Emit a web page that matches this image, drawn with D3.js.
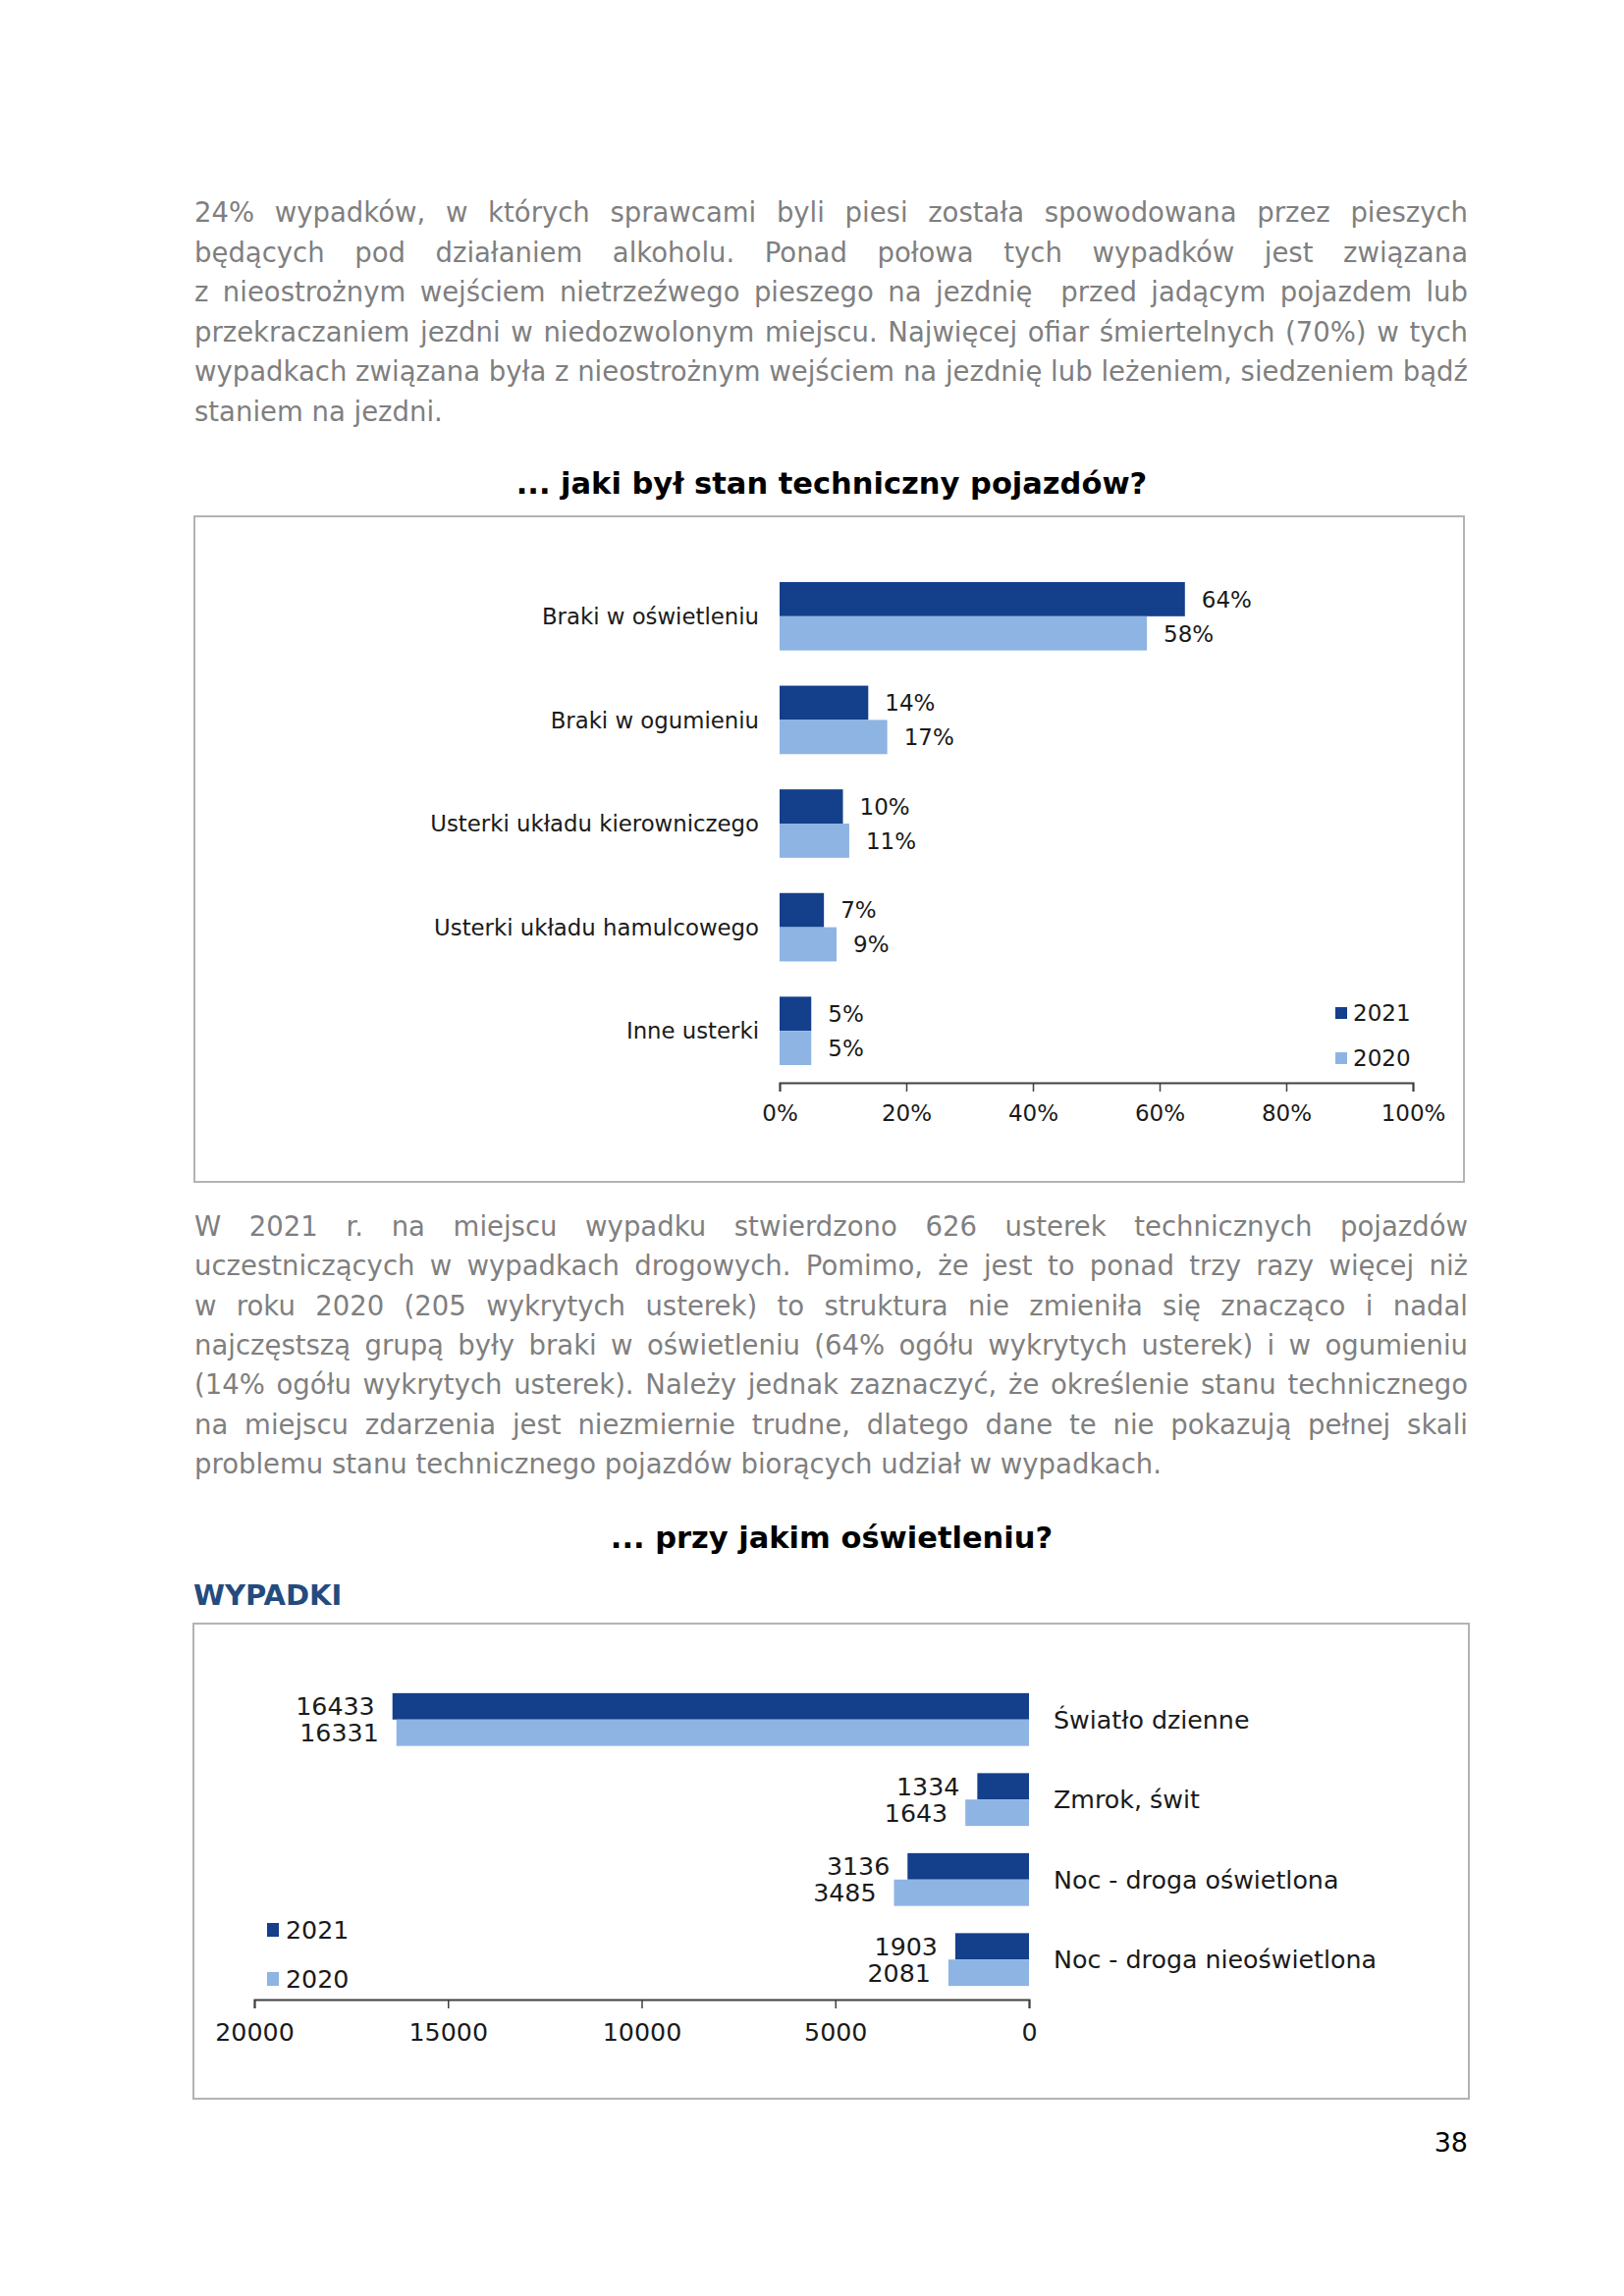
<!DOCTYPE html>
<html lang="pl">
<head>
  <meta charset="UTF-8">
  <title>Stan techniczny pojazdów, oświetlenie</title>
  <script src="https://cdn.jsdelivr.net/npm/d3@7"></script>
  <style>
    html, body { margin: 0; padding: 0; background: #fff; }
    svg { display: block; font-family: "DejaVu Sans", Verdana, sans-serif; }
  </style>
</head>
<body>
<svg id="page"></svg>
<script>
  // --- text of the page ---
  const para1 = [
    "24% wypadków, w których sprawcami byli piesi została spowodowana przez pieszych",
    "będących pod działaniem alkoholu. Ponad połowa tych wypadków jest związana",
    "z nieostrożnym wejściem nietrzeźwego pieszego na jezdnię  przed jadącym pojazdem lub",
    "przekraczaniem jezdni w niedozwolonym miejscu. Najwięcej ofiar śmiertelnych (70%) w tych",
    "wypadkach związana była z nieostrożnym wejściem na jezdnię lub leżeniem, siedzeniem bądź",
    "staniem na jezdni."
  ]
  const para2 = [
    "W 2021 r. na miejscu wypadku stwierdzono 626 usterek technicznych pojazdów",
    "uczestniczących w wypadkach drogowych. Pomimo, że jest to ponad trzy razy więcej niż",
    "w roku 2020 (205 wykrytych usterek) to struktura nie zmieniła się znacząco i nadal",
    "najczęstszą grupą były braki w oświetleniu (64% ogółu wykrytych usterek) i w ogumieniu",
    "(14% ogółu wykrytych usterek). Należy jednak zaznaczyć, że określenie stanu technicznego",
    "na miejscu zdarzenia jest niezmiernie trudne, dlatego dane te nie pokazują pełnej skali",
    "problemu stanu technicznego pojazdów biorących udział w wypadkach."
  ]

  // --- chart 1: stan techniczny pojazdów (%) ---
  const defects = ["Braki w oświetleniu", "Braki w ogumieniu", "Usterki układu kierowniczego",
                   "Usterki układu hamulcowego", "Inne usterki"]
  const defects2021 = [64, 14, 10, 7, 5]
  const defects2020 = [58, 17, 11, 9, 5]
  const pctTicks = [0, 20, 40, 60, 80, 100]

  // --- chart 2: wypadki wg oświetlenia ---
  const lighting = ["Światło dzienne", "Zmrok, świt", "Noc - droga oświetlona", "Noc - droga nieoświetlona"]
  const light2021 = [16433, 1334, 3136, 1903]
  const light2020 = [16331, 1643, 3485, 2081]
  const countTicks = [0, 5000, 10000, 15000, 20000]

  const years = ["2021", "2020"]
  const dark = "#133f8b", pale = "#8eb4e3"
  const textGrey = "#7f7f7f"
  const ink = "#1a1a1a"

  const W = 1654, H = 2339
  const svg = d3.select("#page").attr("width", W).attr("height", H)
  svg.append("rect").attr("width", W).attr("height", H).attr("fill", "#fff")

  // justified paragraph: every line but the last is stretched to the full width
  function paragraph(lines, x0, x1, y0, lh) {
    const g = svg.append("g").attr("font-size", 27.5).attr("fill", textGrey)
    lines.forEach((line, i) => {
      const y = y0 + i * lh
      const words = line.split(" ")
      const t = g.append("text").attr("y", y)
      if (i === lines.length - 1) {
        t.attr("x", x0).text(line)
        return
      }
      const spans = words.map(w => t.append("tspan").text(w))
      const widths = spans.map(s => s.node().getComputedTextLength())
      const gap = (x1 - x0 - d3.sum(widths)) / (words.length - 1)
      let x = x0
      spans.forEach((s, j) => { s.attr("x", x); x += widths[j] + gap })
    })
  }

  paragraph(para1, 198, 1495, 226, 40.5)
  paragraph(para2, 198, 1495, 1259, 40.3)

  // titles
  svg.append("text").attr("x", 847).attr("y", 503).attr("text-anchor", "middle")
    .attr("font-size", 30.5).attr("font-weight", "bold").attr("fill", "#000")
    .text("... jaki był stan techniczny pojazdów?")
  svg.append("text").attr("x", 847).attr("y", 1577).attr("text-anchor", "middle")
    .attr("font-size", 30.5).attr("font-weight", "bold").attr("fill", "#000")
    .text("... przy jakim oświetleniu?")
  svg.append("text").attr("x", 197).attr("y", 1635)
    .attr("font-size", 29).attr("font-weight", "bold").attr("fill", "#244b7e")
    .text("WYPADKI")

  // chart frames
  svg.append("rect").attr("x", 198).attr("y", 526).attr("width", 1293).attr("height", 678)
    .attr("fill", "none").attr("stroke", "#b3b3b3").attr("stroke-width", 2)
  svg.append("rect").attr("x", 197).attr("y", 1654).attr("width", 1299).attr("height", 484)
    .attr("fill", "none").attr("stroke", "#b3b3b3").attr("stroke-width", 2)

  // ---------- chart 1 ----------
  const c1 = svg.append("g")
  const x1 = d3.scaleLinear().domain([0, 100]).range([794, 1439])
  const y1 = d3.scaleBand().domain(defects).range([575, 1103]).paddingInner(0.34).paddingOuter(0.17)
  const half1 = y1.bandwidth() / 2

  const rows1 = defects.map((d, i) => ({ cat: d, v21: defects2021[i], v20: defects2020[i] }))
  const grp1 = c1.selectAll("g.row").data(rows1).join("g").attr("class", "row")

  grp1.append("rect").attr("x", x1(0)).attr("y", d => y1(d.cat))
    .attr("width", d => x1(d.v21) - x1(0)).attr("height", half1).attr("fill", dark)
  grp1.append("rect").attr("x", x1(0)).attr("y", d => y1(d.cat) + half1)
    .attr("width", d => x1(d.v20) - x1(0)).attr("height", half1).attr("fill", pale)

  grp1.append("text").attr("x", d => x1(d.v21) + 17).attr("y", d => y1(d.cat) + half1 / 2)
    .attr("dy", "0.36em").attr("font-size", 23).attr("fill", ink).text(d => d.v21 + "%")
  grp1.append("text").attr("x", d => x1(d.v20) + 17).attr("y", d => y1(d.cat) + half1 * 1.5)
    .attr("dy", "0.36em").attr("font-size", 23).attr("fill", ink).text(d => d.v20 + "%")
  grp1.append("text").attr("x", 773).attr("y", d => y1(d.cat) + half1)
    .attr("dy", "0.36em").attr("text-anchor", "end").attr("font-size", 22.8).attr("fill", ink)
    .text(d => d.cat)

  const ax1 = c1.append("g").attr("transform", "translate(0,1103)")
    .call(d3.axisBottom(x1).tickValues(pctTicks).tickFormat(d => d + "%").tickSize(9).tickPadding(14))
  ax1.select(".domain").attr("stroke", "#404040").attr("stroke-width", 2)
  ax1.selectAll(".tick line").attr("stroke", "#404040").attr("stroke-width", 1.5)
  ax1.selectAll(".tick text").attr("font-size", 23).attr("fill", ink)
    .attr("font-family", "DejaVu Sans, Verdana, sans-serif")

  const leg1 = c1.selectAll("g.leg").data(years).join("g").attr("class", "leg")
    .attr("transform", (d, i) => `translate(1360,${1026 + i * 46})`)
  leg1.append("rect").attr("width", 12).attr("height", 12).attr("fill", (d, i) => i ? pale : dark)
  leg1.append("text").attr("x", 18).attr("y", 6).attr("dy", "0.36em")
    .attr("font-size", 23).attr("fill", ink).text(d => d)

  // ---------- chart 2 ----------
  const c2 = svg.append("g")
  const x2 = d3.scaleLinear().domain([0, 20000]).range([1048, 259])
  const y2 = d3.scaleBand().domain(lighting).range([1711, 2037]).paddingInner(0.34).paddingOuter(0.17)
  const half2 = y2.bandwidth() / 2

  const rows2 = lighting.map((d, i) => ({ cat: d, v21: light2021[i], v20: light2020[i] }))
  const grp2 = c2.selectAll("g.row").data(rows2).join("g").attr("class", "row")

  grp2.append("rect").attr("x", d => x2(d.v21)).attr("y", d => y2(d.cat))
    .attr("width", d => x2(0) - x2(d.v21)).attr("height", half2).attr("fill", dark)
  grp2.append("rect").attr("x", d => x2(d.v20)).attr("y", d => y2(d.cat) + half2)
    .attr("width", d => x2(0) - x2(d.v20)).attr("height", half2).attr("fill", pale)

  grp2.append("text").attr("x", d => x2(d.v21) - 18).attr("y", d => y2(d.cat) + half2 / 2)
    .attr("dy", "0.36em").attr("text-anchor", "end").attr("font-size", 25.3).attr("fill", ink)
    .text(d => d.v21)
  grp2.append("text").attr("x", d => x2(d.v20) - 18).attr("y", d => y2(d.cat) + half2 * 1.5)
    .attr("dy", "0.36em").attr("text-anchor", "end").attr("font-size", 25.3).attr("fill", ink)
    .text(d => d.v20)
  grp2.append("text").attr("x", 1073).attr("y", d => y2(d.cat) + half2)
    .attr("dy", "0.36em").attr("font-size", 25.3).attr("fill", ink).text(d => d.cat)

  const ax2 = c2.append("g").attr("transform", "translate(0,2037)")
    .call(d3.axisBottom(x2).tickValues(countTicks).tickFormat(d3.format("d")).tickSize(9).tickPadding(15))
  ax2.select(".domain").attr("stroke", "#404040").attr("stroke-width", 2)
  ax2.selectAll(".tick line").attr("stroke", "#404040").attr("stroke-width", 1.5)
  ax2.selectAll(".tick text").attr("font-size", 25.3).attr("fill", ink)
    .attr("font-family", "DejaVu Sans, Verdana, sans-serif")

  const leg2 = c2.selectAll("g.leg").data(years).join("g").attr("class", "leg")
    .attr("transform", (d, i) => `translate(272,${1959 + i * 50})`)
  leg2.append("rect").attr("width", 12).attr("height", 14).attr("fill", (d, i) => i ? pale : dark)
  leg2.append("text").attr("x", 19).attr("y", 7).attr("dy", "0.36em")
    .attr("font-size", 25.3).attr("fill", ink).text(d => d)

  // page number
  svg.append("text").attr("x", 1495).attr("y", 2192).attr("text-anchor", "end")
    .attr("font-size", 27).attr("fill", "#000").text("38")
</script>
</body>
</html>
